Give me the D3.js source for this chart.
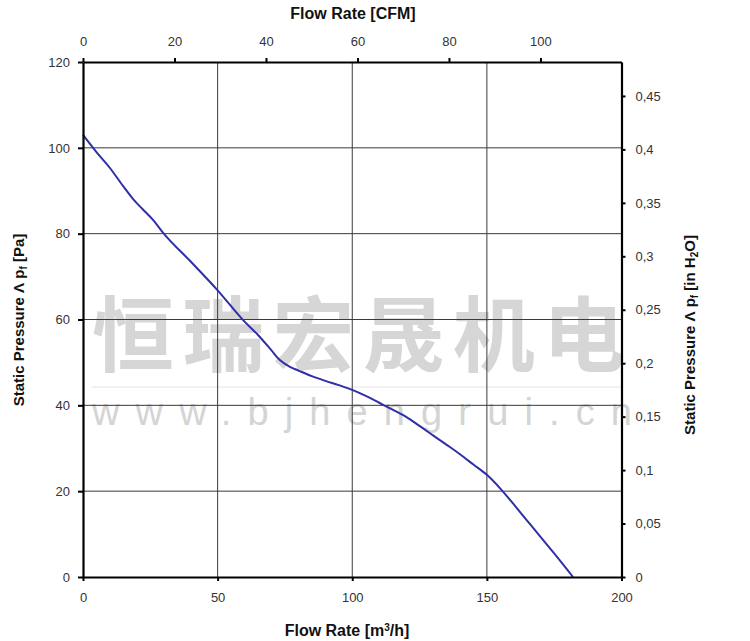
<!DOCTYPE html>
<html><head><meta charset="utf-8">
<script src="https://cdn.jsdelivr.net/npm/d3@7"></script>
<style>body{margin:0;background:#fff}svg{display:block}</style>
</head><body>
<svg id="c" width="750" height="641"></svg>
<script>
const flowM3h = [0,5,10,15,18.7,22,26,30,40,50,60,65,70,73,77,80,85,90,95,100,105,110,115,120,125,130,136,140,145,150,155,160,165,170,175,182];
const pressurePa = [103,99,95.3,91,88,85.8,83.2,80,73.5,66.8,59.5,56.4,52.8,50.6,48.9,48.1,46.8,45.7,44.7,43.6,42.2,40.6,39,37.3,35.2,33,30.4,28.6,26.2,23.8,20.6,16.9,13.1,9.3,5.5,0];
const bottomTicks = [0,50,100,150,200];
const leftTicks = [0,20,40,60,80,100,120];
const topTicks = [0,20,40,60,80,100];
const rightTicks = [0,0.05,0.1,0.15,0.2,0.25,0.3,0.35,0.4,0.45];
const CFM_PER_M3H = 1/1.699;
const PA_PER_INH2O = 249.09;

const svg = d3.select("#c");
const L=83, R=621.5, T=62, B=577;
const x = d3.scaleLinear().domain([0,200]).range([L,R]);
const y = d3.scaleLinear().domain([0,120]).range([B,T]);
const xTop = d3.scaleLinear().domain([0,200*CFM_PER_M3H]).range([L,R]);
const yRight = d3.scaleLinear().domain([0,120/PA_PER_INH2O]).range([B,T]);

// watermark
const wm = svg.append("g");
wm.append("text").attr("x",92).attr("y",365).attr("textLength",533).attr("lengthAdjust","spacing")
  .attr("font-family","Noto Sans CJK SC").attr("font-weight","bold").attr("font-size",82)
  .attr("fill","#d6d6d6").text("恒瑞宏晟机电");
wm.append("line").attr("x1",92).attr("x2",622).attr("y1",387).attr("y2",387).attr("stroke","#ececec").attr("stroke-width",1.5);
wm.append("text").attr("x",92).attr("y",425).attr("textLength",540).attr("lengthAdjust","spacing")
  .attr("font-family","Liberation Sans, Arial").attr("font-size",38)
  .attr("fill","#d4d4d4").text("www.bjhengrui.cn");

// grid
const grid = svg.append("g").attr("stroke","#3a3a3a").attr("stroke-width",1);
bottomTicks.filter(d=>d>0&&d<200).forEach(d=>grid.append("line").attr("x1",x(d)).attr("x2",x(d)).attr("y1",T).attr("y2",B));
leftTicks.filter(d=>d>0&&d<120).forEach(d=>grid.append("line").attr("x1",L).attr("x2",R).attr("y1",y(d)).attr("y2",y(d)));

// curve
svg.append("path").datum(flowM3h.map((f,i)=>[f,pressurePa[i]]))
  .attr("fill","none").attr("stroke","#2f2fa8").attr("stroke-width",2)
  .attr("d", d3.line().x(d=>x(d[0])).y(d=>y(d[1])).curve(d3.curveMonotoneX));

function styleAxis(g){
  g.select(".domain").attr("stroke","#000").attr("stroke-width",2.2);
  g.selectAll(".tick line").attr("stroke","#000").attr("stroke-width",2);
  g.selectAll(".tick text").attr("fill","#333").attr("font-family","Liberation Sans, Arial").attr("font-size",13);
}
const fmtComma = d=>String(+d.toFixed(2)).replace(".",",");
svg.append("g").attr("transform",`translate(0,${B})`)
  .call(d3.axisBottom(x).tickValues(bottomTicks).tickSize(4).tickPadding(12).tickSizeOuter(0)).call(styleAxis);
svg.append("g").attr("transform",`translate(${L},0)`)
  .call(d3.axisLeft(y).tickValues(leftTicks).tickSize(5).tickPadding(8).tickSizeOuter(0)).call(styleAxis);
svg.append("g").attr("transform",`translate(0,${T})`)
  .call(d3.axisTop(xTop).tickValues(topTicks).tickSize(4).tickPadding(12).tickSizeOuter(0)).call(styleAxis);
svg.append("g").attr("transform",`translate(${R},0)`)
  .call(d3.axisRight(yRight).tickValues(rightTicks).tickFormat(fmtComma).tickSize(4).tickPadding(10).tickSizeOuter(0)).call(styleAxis);

// titles
const tf = "Liberation Sans, Arial";
svg.append("text").attr("x",353).attr("y",19).attr("text-anchor","middle").attr("font-family",tf)
  .attr("font-weight","bold").attr("font-size",16).attr("fill","#111").text("Flow Rate [CFM]");
const bt = svg.append("text").attr("x",347).attr("y",636).attr("text-anchor","middle").attr("font-family",tf)
  .attr("font-weight","bold").attr("font-size",16).attr("fill","#111");
bt.append("tspan").text("Flow Rate [m");
bt.append("tspan").attr("font-size",10).attr("dy",-5).text("3");
bt.append("tspan").attr("dy",5).text("/h]");

const lt = svg.append("text").attr("transform","translate(24,320) rotate(-90)").attr("text-anchor","middle")
  .attr("font-family",tf).attr("font-weight","bold").attr("font-size",15).attr("fill","#111");
lt.append("tspan").text("Static Pressure Λ p");
lt.append("tspan").attr("font-size",10).attr("dy",3).text("f");
lt.append("tspan").attr("dy",-3).text(" [Pa]");

const rt = svg.append("text").attr("transform","translate(695,335) rotate(-90)").attr("text-anchor","middle")
  .attr("font-family",tf).attr("font-weight","bold").attr("font-size",15).attr("fill","#111");
rt.append("tspan").text("Static Pressure Λ p");
rt.append("tspan").attr("font-size",10).attr("dy",3).text("f");
rt.append("tspan").attr("dy",-3).text(" [in H");
rt.append("tspan").attr("font-size",10).attr("dy",3).text("2");
rt.append("tspan").attr("dy",-3).text("O]");
</script>
</body></html>
